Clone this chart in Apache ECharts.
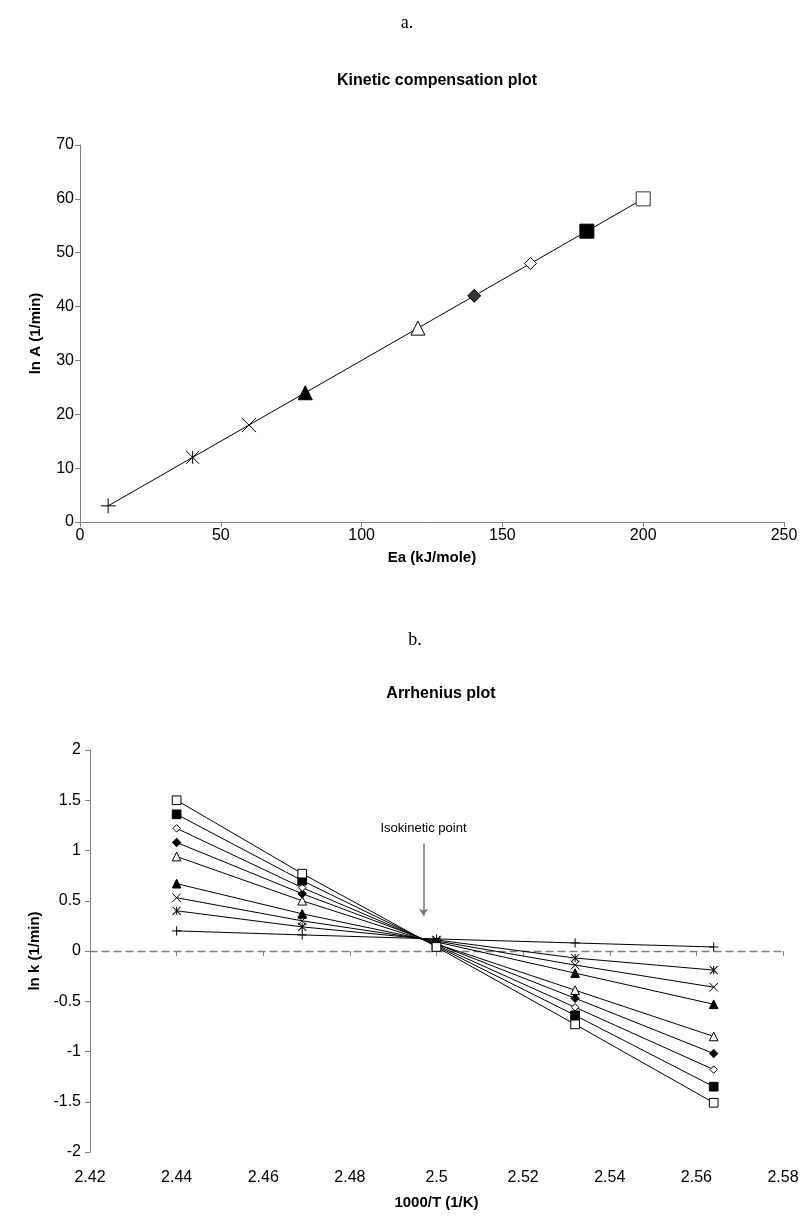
<!DOCTYPE html>
<html>
<head>
<meta charset="utf-8">
<script src="https://cdn.jsdelivr.net/npm/echarts@6/dist/echarts.min.js"></script>
<style>html,body{margin:0;padding:0;background:#fff}#c{width:804px;height:1232px}</style>
</head>
<body>
<div id="c"></div>
<script>
// ---- Data: Kinetic compensation plot ----
var ea = [10, 40, 60, 80, 120, 140, 160, 180, 200];
var lnA = [3, 12, 18, 24, 36, 42, 48, 54, 60];

// ---- Data: Arrhenius plot ----
var invT = [2.44, 2.469, 2.5, 2.532, 2.564];
var lnK_plus      = [0.20, 0.16, 0.12, 0.08, 0.04];
var lnK_asterisk  = [0.40, 0.24, 0.11, -0.07, -0.19];
var lnK_cross     = [0.53, 0.30, 0.10, -0.14, -0.36];
var lnK_triFill   = [0.67, 0.37, 0.09, -0.22, -0.53];
var lnK_triOpen   = [0.94, 0.50, 0.07, -0.39, -0.85];
var lnK_diaFill   = [1.08, 0.57, 0.07, -0.47, -1.02];
var lnK_diaOpen   = [1.22, 0.63, 0.06, -0.56, -1.18];
var lnK_sqFill    = [1.36, 0.70, 0.05, -0.64, -1.35];
var lnK_sqOpen    = [1.50, 0.77, 0.04, -0.73, -1.51];
var arrhSeries = [lnK_plus, lnK_asterisk, lnK_cross, lnK_triFill, lnK_triOpen, lnK_diaFill, lnK_diaOpen, lnK_sqFill, lnK_sqOpen];

// ---- Tick settings (min, max, interval) ----
var xTicksTop = [0, 250, 50];
var yTicksTop = [0, 70, 10];
var xTicksBot = [2.42, 2.58, 0.02];
var yTicksBot = [-2, 2, 0.5];

// annotation (data coords)
var isoX = 2.497, isoFrom = 1.07, isoTo = 0.35;

function plusPath(s){return 'path://M0,'+s/2+' L'+s+','+s/2+' M'+s/2+',0 L'+s/2+','+s;}
function crossPath(s){return 'path://M0,0 L'+s+','+s+' M'+s+',0 L0,'+s;}
function starPath(s){return 'path://M0,0 L'+s+','+s+' M'+s+',0 L0,'+s+' M'+s/2+',0 L'+s/2+','+s;}

function markerStyles(big){
  var k = big ? 1 : 0.62;
  return [
    {symbol: plusPath(14), symbolSize: 15*k, itemStyle:{color:'none', borderColor:'#000', borderWidth:1}},
    {symbol: starPath(13), symbolSize: 13*k, itemStyle:{color:'none', borderColor:'#000', borderWidth:1}},
    {symbol: crossPath(14), symbolSize: 14*k, itemStyle:{color:'none', borderColor:'#000', borderWidth:1}},
    {symbol: 'triangle', symbolSize: 14*k, itemStyle:{color:'#000', borderColor:'#000', borderWidth:1}},
    {symbol: 'triangle', symbolSize: 14*k, itemStyle:{color:'#fff', borderColor:'#000', borderWidth:1}},
    {symbol: 'diamond', symbolSize: 13*k, itemStyle:{color: big ? '#333' : '#000', borderColor:'#000', borderWidth:1}},
    {symbol: 'diamond', symbolSize: 12*k, itemStyle:{color:'#fff', borderColor:'#000', borderWidth:1}},
    {symbol: 'rect', symbolSize: 14*k, itemStyle:{color:'#000', borderColor:'#000', borderWidth:1}},
    {symbol: 'rect', symbolSize: 14*k, itemStyle:{color:'#fff', borderColor: big ? '#333' : '#000', borderWidth:1}}
  ];
}

var font = 'Liberation Sans, Arial, sans-serif';
var serif = 'Liberation Serif, Times New Roman, serif';
var bigM = markerStyles(true);
var smallM = markerStyles(false);

var topData = ea.map(function(x, i){
  var m = bigM[i];
  return {value:[x, lnA[i]], symbol:m.symbol, symbolSize:m.symbolSize, itemStyle:m.itemStyle};
});

var series = [{
  type:'line', xAxisIndex:0, yAxisIndex:0, data: topData,
  lineStyle:{color:'#000', width:1}, showAllSymbol:true, animation:false, z:3
}];

arrhSeries.forEach(function(vals, i){
  var m = smallM[i];
  series.push({
    type:'line', xAxisIndex:1, yAxisIndex:1,
    data: invT.map(function(x, j){return [x, vals[j]];}),
    symbol:m.symbol, symbolSize:m.symbolSize, itemStyle:m.itemStyle,
    lineStyle:{color:'#000', width:1}, showAllSymbol:true, animation:false, z:3
  });
});

series.push({
  type:'line', xAxisIndex:1, yAxisIndex:1, data:[], animation:false,
  markLine:{
    silent:true, symbol:['none','arrow'], symbolSize:[7,7],
    lineStyle:{color:'#777', width:1.5, type:'solid'},
    label:{show:true, position:'start', formatter:'Isokinetic point', color:'#000', fontSize:13, fontFamily:font, distance:9},
    data:[[{coord:[isoX, isoFrom]}, {coord:[isoX, isoTo]}]]
  }
});

var axisLine = {show:true, lineStyle:{color:'#808080', width:1}};
var axisTick = {show:true, length:5, lineStyle:{color:'#808080'}};
var nameStyle = {color:'#000', fontSize:15, fontWeight:'bold', fontFamily:font};

var option = {
  backgroundColor:'#fff',
  animation:false,
  title:[
    {text:'a.', left:402, top:9, textAlign:'center', textStyle:{fontFamily:serif, fontSize:18, fontWeight:'normal', color:'#000'}},
    {text:'Kinetic compensation plot', left:432, top:68, textAlign:'center', textStyle:{fontFamily:font, fontSize:16, fontWeight:'bold', color:'#000'}},
    {text:'b.', left:410, top:626, textAlign:'center', textStyle:{fontFamily:serif, fontSize:18, fontWeight:'normal', color:'#000'}},
    {text:'Arrhenius plot', left:436, top:681, textAlign:'center', textStyle:{fontFamily:font, fontSize:16, fontWeight:'bold', color:'#000'}}
  ],
  grid:[
    {left:80, top:145, width:704, height:377},
    {left:90, top:750, width:693, height:402}
  ],
  xAxis:[
    {gridIndex:0, type:'value', min:xTicksTop[0], max:xTicksTop[1], interval:xTicksTop[2],
     name:'Ea (kJ/mole)', nameLocation:'middle', nameGap:28, nameTextStyle:nameStyle,
     axisLine:axisLine, axisTick:axisTick, axisLabel:{color:'#000', fontSize:16, fontFamily:font, margin:6}, splitLine:{show:false}},
    {gridIndex:1, type:'value', min:xTicksBot[0], max:xTicksBot[1], interval:xTicksBot[2], position:'bottom',
     axisLine:{show:true, onZero:true, lineStyle:{color:'#808080', width:1.3, type:[7,5]}},
     axisTick:{show:true, length:5, lineStyle:{color:'#808080'}}, axisLabel:{show:false}, splitLine:{show:false}},
    {gridIndex:1, type:'value', min:xTicksBot[0], max:xTicksBot[1], interval:xTicksBot[2], position:'bottom',
     axisLine:{show:false, onZero:false}, axisTick:{show:false},
     name:'1000/T (1/K)', nameLocation:'middle', nameGap:43, nameTextStyle:nameStyle,
     axisLabel:{color:'#000', fontSize:16, fontFamily:font, margin:18}, splitLine:{show:false}}
  ],
  yAxis:[
    {gridIndex:0, type:'value', min:yTicksTop[0], max:yTicksTop[1], interval:yTicksTop[2],
     name:'ln A (1/min)', nameLocation:'middle', nameGap:37, nameTextStyle:nameStyle,
     axisLine:axisLine, axisTick:axisTick, axisLabel:{color:'#000', fontSize:16, fontFamily:font, margin:6}, splitLine:{show:false}},
    {gridIndex:1, type:'value', min:yTicksBot[0], max:yTicksBot[1], interval:yTicksBot[2],
     name:'ln k (1/min)', nameLocation:'middle', nameGap:45, nameTextStyle:nameStyle,
     axisLine:{show:true, onZero:false, lineStyle:{color:'#808080', width:1}}, axisTick:axisTick,
     axisLabel:{color:'#000', fontSize:16, fontFamily:font, margin:9}, splitLine:{show:false}}
  ],
  series: series
};

var chart = echarts.init(document.getElementById('c'), null, {renderer:'canvas'});
chart.setOption(option);
</script>
</body>
</html>
